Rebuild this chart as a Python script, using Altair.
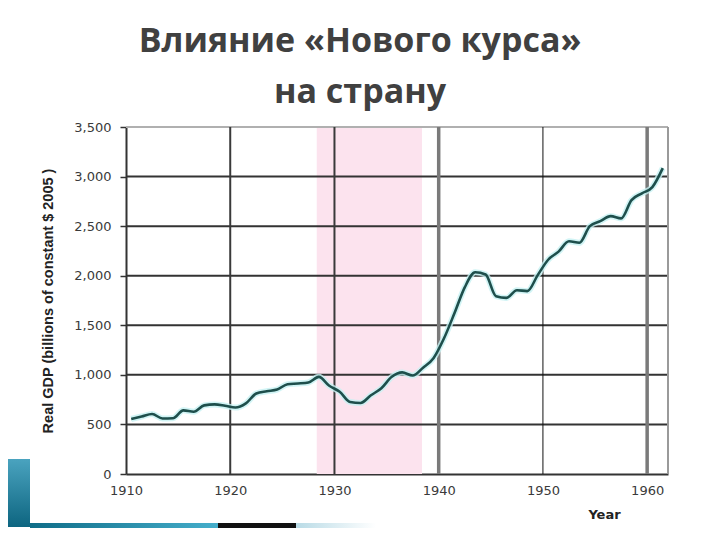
import altair as alt
import pandas as pd

# ---- data ----
YEARS = list(range(1911, 1963))
GDP = [555, 580, 605, 560, 562, 642, 628, 692, 702, 688, 670, 712, 812, 835, 852,
       906, 913, 923, 980, 890, 830, 726, 716, 794, 865, 980, 1025, 993, 1072, 1167,
       1366, 1618, 1883, 2035, 2012, 1793, 1776, 1854, 1845, 2006, 2161, 2243, 2347,
       2332, 2500, 2550, 2601, 2578, 2763, 2831, 2894, 3085]

SHADE_START = [1928.3]
SHADE_END = [1938.4]

HGRID = [500, 1000, 1500, 2000, 2500, 3000]
TOP_LINE = [3500]
VGRID_DARK = [1920, 1930]
VGRID_THICK = [1940, 1960]
VGRID_THIN = [1950]
RIGHT_EDGE = [1962]

Y_TICKS = [0, 500, 1000, 1500, 2000, 2500, 3000, 3500]
X_TICKS = [1910, 1920, 1930, 1940, 1950, 1960]

TITLE_LINES = ["Влияние «Нового курса»", "на страну"]
Y_TITLE = "Real GDP (billions of constant $ 2005 )"
X_TITLE = "Year"

df = pd.DataFrame({"year": YEARS, "gdp": GDP})

W, H = 542, 347
xs = alt.Scale(domain=[1910, 1962], nice=False, zero=False)
ys = alt.Scale(domain=[0, 3500], nice=False)

XAX = alt.Axis(
    values=X_TICKS,
    format="d",
    grid=False,
    domain=True,
    domainColor="#333333",
    domainWidth=2,
    ticks=False,
    labelFlush=False,
    labelPadding=10,
    labelFont="DejaVu Sans",
    labelFontSize=13,
    labelColor="#3a3a3a",
    titleFont="DejaVu Sans",
    titleFontSize=13,
    titleFontWeight="bold",
    titleColor="#222222",
    titleX=478,
    titleY=40,
    titleAlign="center",
    titleBaseline="middle",
)
YAX = alt.Axis(
    values=Y_TICKS,
    format=",.0f",
    grid=False,
    domain=True,
    domainColor="#333333",
    domainWidth=2,
    ticks=True,
    tickSize=6,
    tickColor="#333333",
    tickWidth=1.5,
    labelFlush=False,
    labelPadding=9,
    labelFont="DejaVu Sans",
    labelFontSize=13,
    labelColor="#3a3a3a",
    titleFont="Liberation Sans",
    titleFontSize=14.5,
    titleFontWeight="bold",
    titleColor="#222222",
    titlePadding=18,
)


def X(field):
    return alt.X(field, scale=xs, axis=XAX, title=X_TITLE)


def Y(field):
    return alt.Y(field, scale=ys, axis=YAX, title=Y_TITLE)


shade = alt.Chart(pd.DataFrame({"s": SHADE_START, "e": SHADE_END})).mark_rect(
    color="#fce3ee"
).encode(x=X("s:Q"), x2="e:Q", y=alt.value(0), y2=alt.value(H))

hgrid = alt.Chart(pd.DataFrame({"v": HGRID})).mark_rule(color="#333333", strokeWidth=2).encode(
    y=Y("v:Q")
)
topline = alt.Chart(pd.DataFrame({"v": TOP_LINE})).mark_rule(color="#b0b0b0", strokeWidth=2).encode(
    y=Y("v:Q")
)
vdark = alt.Chart(pd.DataFrame({"v": VGRID_DARK})).mark_rule(color="#3a3a3a", strokeWidth=2).encode(
    x=X("v:Q")
)
vthick = alt.Chart(pd.DataFrame({"v": VGRID_THICK})).mark_rule(color="#7a7a7a", strokeWidth=3.5).encode(
    x=X("v:Q")
)
vthin = alt.Chart(pd.DataFrame({"v": VGRID_THIN})).mark_rule(color="#111111", strokeWidth=1).encode(
    x=X("v:Q")
)
redge = alt.Chart(pd.DataFrame({"v": RIGHT_EDGE})).mark_rule(color="#9a9a9a", strokeWidth=2).encode(
    x=X("v:Q")
)

pos = alt.Chart(df).transform_calculate(pos="datum.year - 0.5")

glow = pos.mark_line(color="#c6f1f3", strokeWidth=6, opacity=0.8, interpolate="monotone").encode(
    x=X("pos:Q"), y=Y("gdp:Q")
)
line = pos.mark_line(color="#1e4f4c", strokeWidth=2.6, interpolate="monotone").encode(
    x=X("pos:Q"), y=Y("gdp:Q")
)

one = pd.DataFrame({"k": [0]})

title_layers = []
for txt, yy in zip(TITLE_LINES, [-75, -24]):
    t = alt.Chart(one).mark_text(
        text=txt, font="Open Sans", fontSize=34, fontWeight="bold",
        color="#404040", align="center", baseline="alphabetic"
    ).encode(x=alt.value(234), y=alt.value(yy))
    title_layers.append(t)

teal_v = alt.Gradient(gradient="linear", x1=0, x2=0, y1=0, y2=1,
                      stops=[alt.GradientStop(color="#4aa3bf", offset=0),
                             alt.GradientStop(color="#0d6580", offset=1)])
teal_h = alt.Gradient(gradient="linear", x1=0, x2=1, y1=0, y2=0,
                      stops=[alt.GradientStop(color="#0f6d88", offset=0),
                             alt.GradientStop(color="#45aecb", offset=1)])
fade_h = alt.Gradient(gradient="linear", x1=0, x2=1, y1=0, y2=0,
                      stops=[alt.GradientStop(color="#b9dbe6", offset=0),
                             alt.GradientStop(color="#ffffff", offset=1)])

deco_block = alt.Chart(one).mark_rect(color=teal_v).encode(
    x=alt.value(-126), x2=alt.value(-96), y=alt.value(332), y2=alt.value(400))
deco_band = alt.Chart(one).mark_rect(color=teal_h).encode(
    x=alt.value(-96), x2=alt.value(92), y=alt.value(396), y2=alt.value(410))
deco_black = alt.Chart(one).mark_rect(color="#111111").encode(
    x=alt.value(92), x2=alt.value(170), y=alt.value(396), y2=alt.value(410))
deco_fade = alt.Chart(one).mark_rect(color=fade_h).encode(
    x=alt.value(170), x2=alt.value(250), y=alt.value(396), y2=alt.value(410))

chart = alt.layer(
    shade, topline, hgrid, vdark, vthin, vthick, redge, glow, line,
    *title_layers, deco_block, deco_band, deco_black, deco_fade,
).properties(
    width=W,
    height=H,
    autosize=alt.AutoSizeParams(type="none"),
    padding={"left": 118, "top": 119, "right": 44, "bottom": 54},
    background="white",
).configure_view(stroke=None)

chart.save("out.html", embed_options={"renderer": "svg", "actions": False})
